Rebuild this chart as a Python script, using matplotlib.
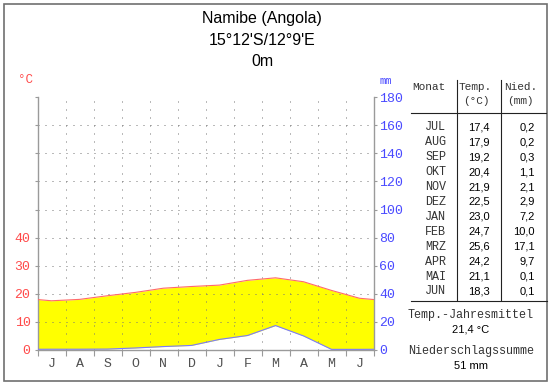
import matplotlib
matplotlib.use("Agg")
import matplotlib.pyplot as plt
from matplotlib.lines import Line2D
from matplotlib.patches import Rectangle
import numpy as np

# Klimadaten Namibe (Angola), Jul..Jun
monate = ["JUL", "AUG", "SEP", "OKT", "NOV", "DEZ", "JAN", "FEB", "MRZ", "APR", "MAI", "JUN"]
achse_monate = ["J", "A", "S", "O", "N", "D", "J", "F", "M", "A", "M", "J"]
temp = [17.4, 17.9, 19.2, 20.4, 21.9, 22.5, 23.0, 24.7, 25.6, 24.2, 21.1, 18.3]
nied = [0.2, 0.2, 0.3, 1.1, 2.1, 2.9, 7.2, 10.0, 17.1, 9.7, 0.1, 0.1]
temp_ticks = [0, 10, 20, 30, 40]
nied_ticks = [0, 20, 40, 60, 80, 100, 120, 140, 160, 180]
titel = ["Namibe (Angola)", "15°12'S/12°9'E", "0m"]
jahresmittel = "21,4 °C"
summe = "51 mm"

W, H = 550, 384
MONO = "Liberation Mono"
SANS = "Liberation Sans"
RED = "#ff4a4a"
BLUE = "#4a4aff"
GRAY = "#9a9a9a"
TXT = "#333333"


def px(x, y):
    return x / W, 1 - y / H


fig = plt.figure(figsize=(W / 100, H / 100), dpi=100)
fig.patch.set_facecolor("white")

# plot area
left, right, top, bottom = 37.5, 373.5, 97.5, 349.5
ax = fig.add_axes([left / W, 1 - bottom / H, (right - left) / W, (bottom - top) / H])
ax.set_xlim(0, 12)
ax.set_ylim(0, 90)

# values at month centres, closed at the edges with the Jun/Jul mean
t = np.array(temp)
p = np.array(nied) / 2.0  # 20 mm == 10 °C
edge_t = (t[0] + t[-1]) / 2
edge_p = (p[0] + p[-1]) / 2
x = np.concatenate([[0], np.arange(12) + 0.5, [12]])
tt = np.concatenate([[edge_t], t, [edge_t]])
pp = np.concatenate([[edge_p], p, [edge_p]])

ax.fill_between(x, pp, tt, where=tt >= pp, color="#ffff00", lw=0, zorder=1, interpolate=True)
ax.fill_between(x, tt, pp, where=pp > tt, color="#5a8cff", lw=0, zorder=1, interpolate=True)

# dotted grid
for i in range(1, 12):
    ax.axvline(i, color="#777777", lw=0.72, ls=(0, (1, 7)), zorder=2)
for v in range(10, 91, 10):
    ax.axhline(v, color="#777777", lw=0.72, ls=(0, (1, 6)), zorder=2)

ax.plot(x, tt, color="#ff6a6a", lw=0.8, zorder=3)
ax.plot(x, pp, color="#7a7aff", lw=0.8, zorder=3)

for s in ["top", "right"]:
    ax.spines[s].set_visible(False)
for s in ["left", "bottom"]:
    ax.spines[s].set_color(GRAY)
    ax.spines[s].set_linewidth(1.0)

ax.set_yticks(range(0, 91, 10))
ax.set_yticklabels([str(v) if v in temp_ticks else "" for v in range(0, 91, 10)],
                   fontfamily=MONO, fontsize=9.5, color=RED)
ax.tick_params(axis="y", length=2, color=GRAY, pad=3)

ax.set_xticks(range(13))
ax.set_xticklabels([])
ax.tick_params(axis="x", which="major", length=4, color=GRAY)
ax.set_xticks(np.arange(12) + 0.5, minor=True)
ax.set_xticklabels(achse_monate, minor=True, fontfamily=MONO, fontsize=9.5, color="#505050")
ax.tick_params(axis="x", which="minor", length=0, pad=6)

ax2 = ax.twinx()
ax2.set_ylim(0, 180)
for s in ["top", "left", "bottom"]:
    ax2.spines[s].set_visible(False)
ax2.spines["right"].set_color(GRAY)
ax2.spines["right"].set_linewidth(1.0)
ax2.set_yticks(nied_ticks)
ax2.set_yticklabels([str(v) for v in nied_ticks], fontfamily=MONO, fontsize=9.5, color=BLUE)
ax2.tick_params(axis="y", length=2, color=GRAY, pad=2)

# axis units
fig.text(*px(25, 80), "°C", fontfamily=MONO, fontsize=9, color=RED, ha="center", va="center")
fig.text(*px(386, 81), "mm", fontfamily=MONO, fontsize=7.5, color=BLUE, ha="center", va="center")

# title
for ty, txt in zip([18.5, 40.5, 62], titel):
    fig.text(*px(262, ty), txt, fontfamily=SANS, fontsize=11.5, ha="center", va="center")

# table
hdr = dict(fontfamily=MONO, fontsize=8, ha="center", va="center", color=TXT)
fig.text(*px(429, 87), "Monat", **hdr)
fig.text(*px(475.5, 87), "Temp.", **hdr)
fig.text(*px(476.5, 101), "(°C)", **hdr)
fig.text(*px(520.5, 87), "Nied.", **hdr)
fig.text(*px(520.5, 101), "(mm)", **hdr)

row0, step = 127.5, 14.9
for i, (m, tv, nv) in enumerate(zip(monate, temp, nied)):
    y = row0 + i * step
    fig.text(*px(446, y), m, fontfamily=MONO, fontsize=8.5, ha="right", va="center", color=TXT)
    fig.text(*px(490, y), f"{tv:.1f}".replace(".", ","), fontfamily=SANS, fontsize=8,
             ha="right", va="center")
    fig.text(*px(535, y), f"{nv:.1f}".replace(".", ","), fontfamily=SANS, fontsize=8,
             ha="right", va="center")

lc = "#222222"
fig.add_artist(Line2D([456.5 / W, 456.5 / W], [1 - 80 / H, 1 - 300 / H], color=lc, lw=0.8))
fig.add_artist(Line2D([501 / W, 501 / W], [1 - 80 / H, 1 - 300 / H], color=lc, lw=0.8))
fig.add_artist(Line2D([411 / W, 546 / W], [1 - 113 / H, 1 - 113 / H], color=lc, lw=0.8))
fig.add_artist(Line2D([411 / W, 547 / W], [1 - 301 / H, 1 - 301 / H], color=lc, lw=0.8))

fig.text(*px(471, 315), "Temp.-Jahresmittel", fontfamily=MONO, fontsize=8.5, ha="center", va="center", color=TXT)
fig.text(*px(471, 330), jahresmittel, fontfamily=SANS, fontsize=8, ha="center", va="center")
fig.text(*px(471, 351), "Niederschlagssumme", fontfamily=MONO, fontsize=8.5, ha="center", va="center", color=TXT)
fig.text(*px(471, 366), summe, fontfamily=SANS, fontsize=8, ha="center", va="center")

# outer frame
fig.add_artist(Rectangle((3.5 / W, 1 - 381 / H), 543.5 / W, 377.5 / H, transform=fig.transFigure,
                         fill=False, edgecolor="#707070", lw=1.2))

fig.savefig("out.png", dpi=100)
